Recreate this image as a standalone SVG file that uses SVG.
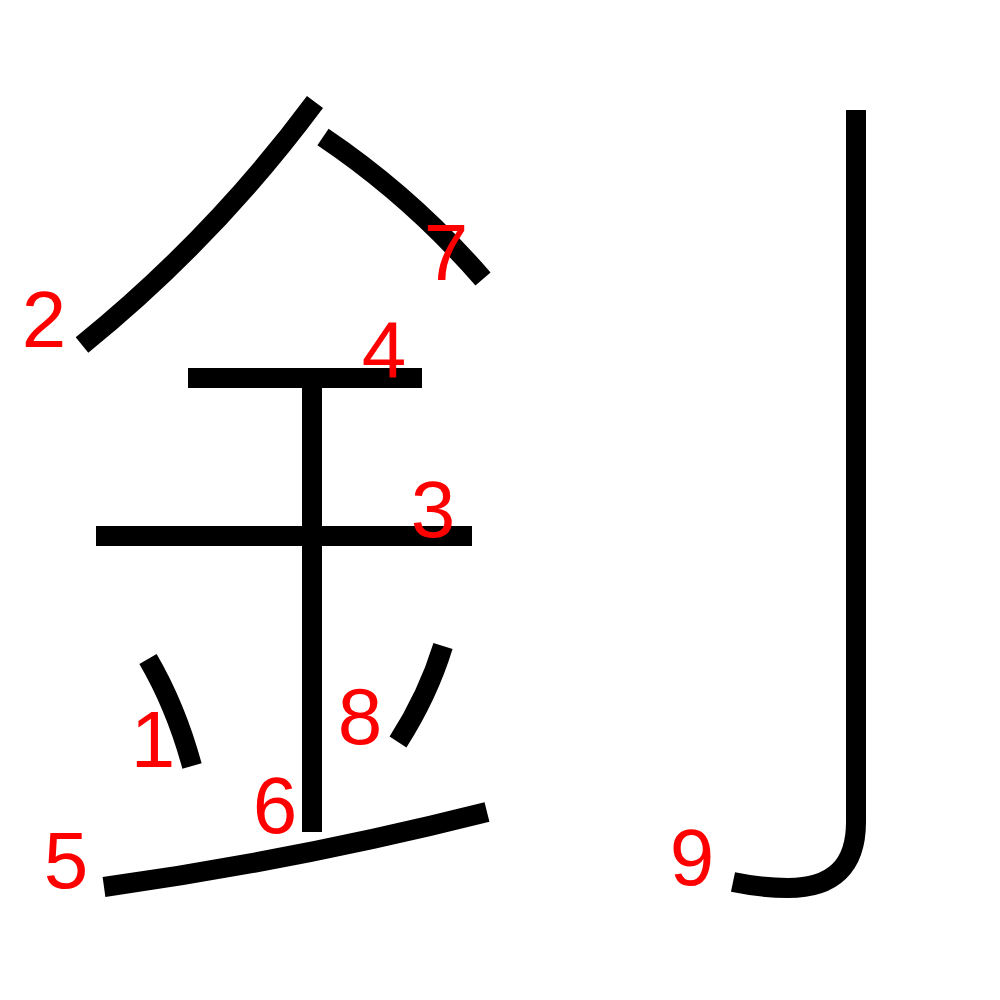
<svg xmlns="http://www.w3.org/2000/svg" width="1000" height="1000" viewBox="0 0 1000 1000">
<style>
.s{fill:none;stroke:#000;stroke-width:20;stroke-linecap:butt;stroke-linejoin:round}
.n{fill:#f00;font-family:"Liberation Sans",Arial,sans-serif;font-size:80px;text-anchor:middle}
</style>
<rect width="1000" height="1000" fill="#fff"/>
<g id="strokes">
<path id="s1" class="s" d="M148,659 C162,683 180,722 192,766"/>
<path id="s2" class="s" d="M315,102 Q214,238 82,345"/>
<path id="s3" class="s" d="M96,536 H472"/>
<path id="s4" class="s" d="M188,378 H422"/>
<path id="s5" class="s" d="M104,887 Q297,860 487,812"/>
<path id="s6" class="s" d="M312,386 V832"/>
<path id="s7" class="s" d="M323,137 Q412,197 483,279"/>
<path id="s8" class="s" d="M443,646 Q428,695 398,742"/>
<path id="s9" class="s" d="M856,110 V822 Q856,888 788,888 Q762,888 733,882"/>
</g>
<g id="labels">
<text class="n" x="153" y="767">1</text>
<text class="n" x="44" y="347">2</text>
<text class="n" x="433" y="537">3</text>
<text class="n" x="384" y="377">4</text>
<text class="n" x="66" y="888">5</text>
<text class="n" x="275" y="833">6</text>
<text class="n" x="446" y="280">7</text>
<text class="n" x="360" y="744">8</text>
<text class="n" x="692" y="885">9</text>
</g>
</svg>
